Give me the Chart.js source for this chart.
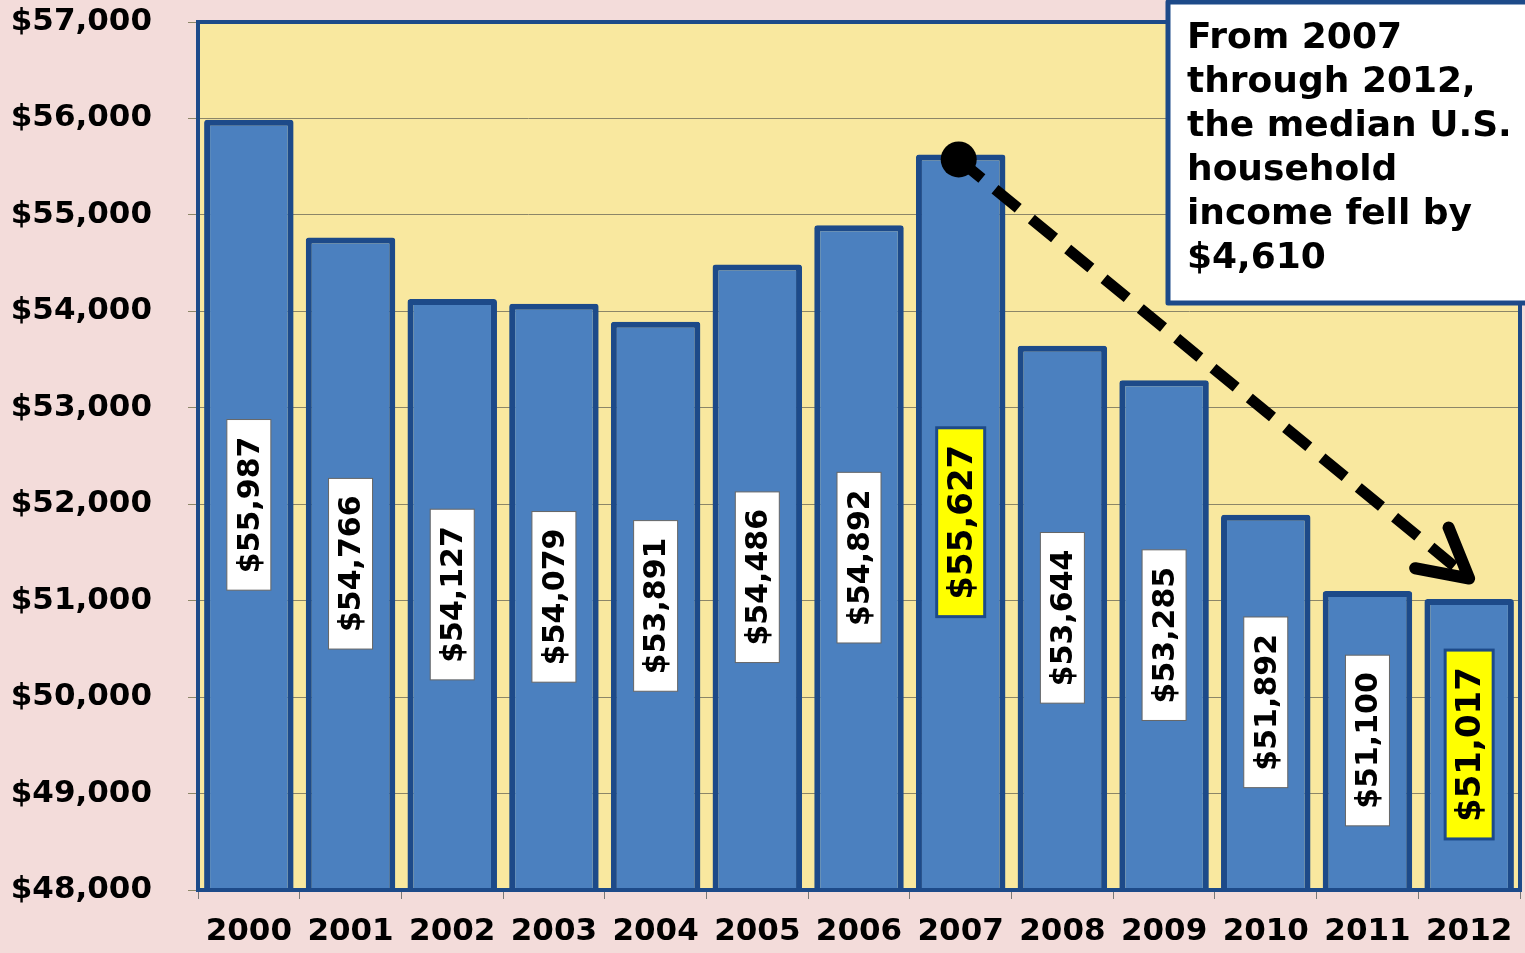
<!DOCTYPE html>
<html>
<head>
<meta charset="utf-8">
<script src="https://cdn.jsdelivr.net/npm/chart.js@4/dist/chart.umd.min.js"></script>
<style>
  body { margin: 0; background: #f3dcda; }
  canvas { display: block; }
</style>
</head>
<body>
<canvas id="incomeChart" width="1525" height="953"></canvas>
<script>
// median household income, 2000-2012
const years = ['2000', '2001', '2002', '2003', '2004', '2005', '2006', '2007', '2008', '2009', '2010', '2011', '2012'];
const income = [55987, 54766, 54127, 54079, 53891, 54486, 54892, 55627, 53644, 53285, 51892, 51100, 51017];
const highlighted = ['2007', '2012'];
const yTicks = [48000, 49000, 50000, 51000, 52000, 53000, 54000, 55000, 56000, 57000];
const noteLines = ['From 2007', 'through 2012,', 'the median U.S.', 'household', 'income fell by', '$4,610'];
const arrowFrom = { year: '2007', value: 55627 };
const arrowTo = { year: '2012', value: 51230 };

const NAVY = '#1d4a89';
const money = v => '$' + v.toLocaleString('en-US');

const backdrop = {
  id: 'backdrop',
  beforeDraw(chart) {
    const { ctx, chartArea: a } = chart;
    ctx.save();
    ctx.fillStyle = '#f3dcda';
    ctx.fillRect(0, 0, chart.width, chart.height);
    ctx.fillStyle = '#f9e89f';
    ctx.fillRect(a.left, a.top, a.right - a.left, a.bottom - a.top);
    ctx.restore();
  },
  afterDatasetsDraw(chart) {
    const { ctx, chartArea: a } = chart;
    const xs = chart.scales.x, ys = chart.scales.y;
    ctx.save();
    // plot frame
    ctx.strokeStyle = NAVY;
    ctx.lineWidth = 4;
    ctx.strokeRect(a.left, a.top, a.right - a.left, a.bottom - a.top);

    // rotated value labels
    const base = ys.getPixelForValue(yTicks[0]);
    income.forEach((v, i) => {
      const hot = highlighted.includes(years[i]);
      const size = hot ? 34 : 30;
      const txt = money(v);
      const cx = xs.getPixelForValue(i);
      const cy = (ys.getPixelForValue(v) + base) / 2;
      ctx.font = 'bold ' + size + 'px "DejaVu Sans", Verdana, sans-serif';
      const len = ctx.measureText(txt).width + 34;
      const th = size + 14;
      ctx.save();
      ctx.translate(cx, cy);
      ctx.rotate(-Math.PI / 2);
      ctx.fillStyle = hot ? '#ffff00' : '#ffffff';
      ctx.fillRect(-len / 2, -th / 2, len, th);
      ctx.lineWidth = hot ? 3 : 1;
      ctx.strokeStyle = hot ? NAVY : '#666666';
      ctx.strokeRect(-len / 2, -th / 2, len, th);
      ctx.fillStyle = '#000';
      ctx.textAlign = 'center';
      ctx.textBaseline = 'middle';
      ctx.fillText(txt, 0, 2);
      ctx.restore();
    });

    // dashed arrow
    const x0 = xs.getPixelForValue(years.indexOf(arrowFrom.year)) - 2;
    const y0 = ys.getPixelForValue(arrowFrom.value) + 5;
    const x1 = xs.getPixelForValue(years.indexOf(arrowTo.year));
    const y1 = ys.getPixelForValue(arrowTo.value);
    const ang = Math.atan2(y1 - y0, x1 - x0);
    ctx.strokeStyle = '#000';
    ctx.fillStyle = '#000';
    ctx.lineWidth = 11;
    ctx.setLineDash([30, 17]);
    ctx.beginPath();
    ctx.moveTo(x0, y0);
    ctx.lineTo(x1 - 14 * Math.cos(ang), y1 - 14 * Math.sin(ang));
    ctx.stroke();
    ctx.setLineDash([]);
    ctx.beginPath();
    ctx.arc(x0, y0, 18, 0, Math.PI * 2);
    ctx.fill();
    ctx.lineCap = 'round';
    ctx.lineJoin = 'round';
    ctx.lineWidth = 12;
    ctx.beginPath();
    ctx.moveTo(x1 - 55 * Math.cos(ang - 0.5), y1 - 55 * Math.sin(ang - 0.5));
    ctx.lineTo(x1, y1);
    ctx.lineTo(x1 - 55 * Math.cos(ang + 0.5), y1 - 55 * Math.sin(ang + 0.5));
    ctx.stroke();

    // note box
    ctx.fillStyle = '#ffffff';
    ctx.fillRect(1168, 2, 370, 301);
    ctx.lineWidth = 5;
    ctx.strokeStyle = NAVY;
    ctx.strokeRect(1168, 2, 370, 301);
    ctx.fillStyle = '#000';
    ctx.font = 'bold 36px "DejaVu Sans", Verdana, sans-serif';
    ctx.textAlign = 'left';
    ctx.textBaseline = 'alphabetic';
    noteLines.forEach((l, i) => ctx.fillText(l, 1187, 48 + i * 44));
    ctx.restore();
  }
};

new Chart(document.getElementById('incomeChart'), {
  type: 'bar',
  data: {
    labels: years,
    datasets: [{
      data: income,
      backgroundColor: '#4b80bf',
      borderColor: NAVY,
      borderWidth: 6,
      borderSkipped: false,
      borderRadius: 3,
      barPercentage: 0.88,
      categoryPercentage: 1
    }]
  },
  options: {
    responsive: false,
    animation: false,
    layout: { padding: { top: 22, right: 5, left: 0, bottom: 0 } },
    plugins: { legend: { display: false }, tooltip: { enabled: false } },
    scales: {
      x: {
        afterFit: s => { s.height = 63; s.paddingLeft = 0; s.paddingRight = 0; },
        border: { display: false },
        grid: { offset: true, drawOnChartArea: false, tickLength: 9, color: '#777' },
        ticks: { color: '#000', padding: 14, font: { family: '"DejaVu Sans", Verdana, sans-serif', size: 31, weight: 'bold' } }
      },
      y: {
        min: yTicks[0],
        max: yTicks[yTicks.length - 1],
        afterFit: s => { s.width = 198; s.paddingTop = 0; s.paddingBottom = 0; },
        afterBuildTicks: s => { s.ticks = yTicks.map(v => ({ value: v })); },
        border: { display: false },
        grid: { color: '#8c8668', lineWidth: 1, tickLength: 10 },
        ticks: {
          color: '#000',
          padding: 36,
          callback: v => money(v),
          font: { family: '"DejaVu Sans", Verdana, sans-serif', size: 31, weight: 'bold' }
        }
      }
    }
  },
  plugins: [backdrop]
});
</script>
</body>
</html>
